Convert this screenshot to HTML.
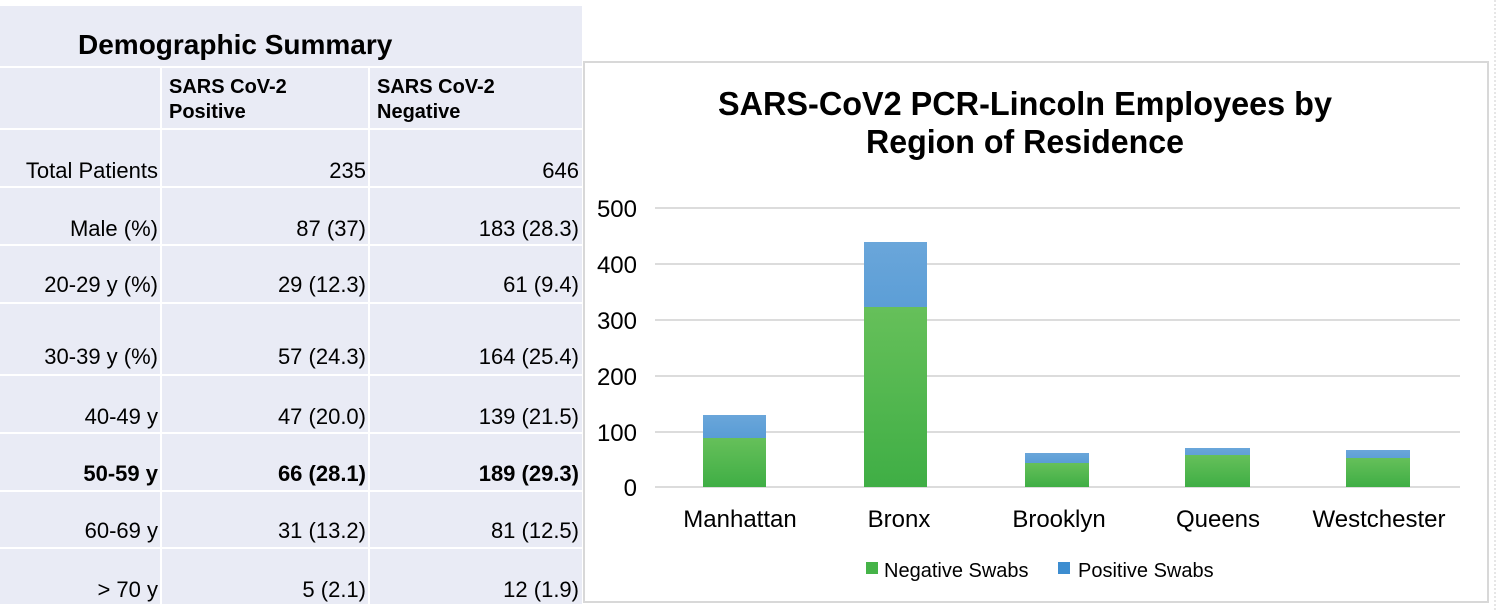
<!DOCTYPE html>
<html><head><style>
body{margin:0;width:1500px;height:611px;background:#fff;position:relative;overflow:hidden;font-family:"Liberation Sans",Arial,sans-serif;color:#000}
.a{position:absolute}
.tb{left:0;top:6px;width:582px;height:598px;background:#e9ebf5}
.h{background:#fff}
.t{position:absolute;font-size:22px;white-space:nowrap}
.r{text-align:right}
</style></head><body>
<div class="a tb"></div>
<div class="a h" style="left:0;top:66px;width:582px;height:2px"></div>
<div class="a h" style="left:0;top:128px;width:582px;height:2px"></div>
<div class="a h" style="left:0;top:186px;width:582px;height:2px"></div>
<div class="a h" style="left:0;top:244px;width:582px;height:2px"></div>
<div class="a h" style="left:0;top:302px;width:582px;height:2px"></div>
<div class="a h" style="left:0;top:374px;width:582px;height:2px"></div>
<div class="a h" style="left:0;top:432px;width:582px;height:2px"></div>
<div class="a h" style="left:0;top:490px;width:582px;height:2px"></div>
<div class="a h" style="left:0;top:547px;width:582px;height:2px"></div>
<div class="a h" style="left:160px;top:67px;width:2px;height:537px"></div>
<div class="a h" style="left:368px;top:67px;width:2px;height:537px"></div>
<div class="t" style="left:78px;top:29px;font-size:28px;font-weight:bold">Demographic Summary</div>
<div class="t" style="left:169px;top:75px;font-size:20px;font-weight:bold;line-height:25px">SARS CoV-2<br>Positive</div>
<div class="t" style="left:377px;top:75px;font-size:20px;font-weight:bold;line-height:25px">SARS CoV-2<br>Negative</div>

<div class="t r" style="right:1342px;top:158px">Total Patients</div><div class="t r" style="right:1134px;top:158px">235</div><div class="t r" style="right:921px;top:158px">646</div>
<div class="t r" style="right:1342px;top:216px">Male (%)</div><div class="t r" style="right:1134px;top:216px">87 (37)</div><div class="t r" style="right:921px;top:216px">183 (28.3)</div>
<div class="t r" style="right:1342px;top:272px">20-29 y (%)</div><div class="t r" style="right:1134px;top:272px">29 (12.3)</div><div class="t r" style="right:921px;top:272px">61 (9.4)</div>
<div class="t r" style="right:1342px;top:344px">30-39 y (%)</div><div class="t r" style="right:1134px;top:344px">57 (24.3)</div><div class="t r" style="right:921px;top:344px">164 (25.4)</div>
<div class="t r" style="right:1342px;top:404px">40-49 y</div><div class="t r" style="right:1134px;top:404px">47 (20.0)</div><div class="t r" style="right:921px;top:404px">139 (21.5)</div>
<div class="t r" style="right:1342px;top:461px;font-weight:bold">50-59 y</div><div class="t r" style="right:1134px;top:461px;font-weight:bold">66 (28.1)</div><div class="t r" style="right:921px;top:461px;font-weight:bold">189 (29.3)</div>
<div class="t r" style="right:1342px;top:518px">60-69 y</div><div class="t r" style="right:1134px;top:518px">31 (13.2)</div><div class="t r" style="right:921px;top:518px">81 (12.5)</div>
<div class="t r" style="right:1342px;top:577px">&gt; 70 y</div><div class="t r" style="right:1134px;top:577px">5 (2.1)</div><div class="t r" style="right:921px;top:577px">12 (1.9)</div>

<svg class="a" style="left:0;top:0" width="1500" height="611">
<rect x="584" y="62" width="904" height="540" fill="#fff" stroke="#d8d8d8" stroke-width="2"/>
<line x1="1495" y1="0" x2="1495" y2="611" stroke="#ccc" stroke-dasharray="2,2"/>
<defs>
<linearGradient id="g" x1="0" y1="0" x2="0" y2="1"><stop offset="0" stop-color="#66c05a"/><stop offset="1" stop-color="#3fae45"/></linearGradient>
<linearGradient id="b" x1="0" y1="0" x2="0" y2="1"><stop offset="0" stop-color="#6aa6da"/><stop offset="1" stop-color="#3588cc"/></linearGradient>
</defs>
<text x="718" y="115" font-size="33" font-weight="bold" font-family="Liberation Sans" textLength="614" lengthAdjust="spacingAndGlyphs">SARS-CoV2 PCR-Lincoln Employees by</text>
<text x="866" y="153" font-size="33" font-weight="bold" font-family="Liberation Sans" textLength="318" lengthAdjust="spacingAndGlyphs">Region of Residence</text>
<g stroke="#dcdcdc" stroke-width="2">
<line x1="655" y1="208" x2="1460" y2="208"/><line x1="655" y1="264" x2="1460" y2="264"/><line x1="655" y1="320" x2="1460" y2="320"/><line x1="655" y1="376" x2="1460" y2="376"/><line x1="655" y1="432" x2="1460" y2="432"/><line x1="655" y1="487" x2="1460" y2="487"/>
</g>
<g font-size="24" font-family="Liberation Sans" text-anchor="end">
<text x="637" y="217">500</text><text x="637" y="273">400</text><text x="637" y="329">300</text><text x="637" y="385">200</text><text x="637" y="441">100</text><text x="637" y="496">0</text>
</g>
<rect x="703" y="415" width="63" height="72" fill="url(#b)"/><rect x="703" y="438" width="63" height="49" fill="url(#g)"/>
<rect x="864" y="242" width="63" height="245" fill="url(#b)"/><rect x="864" y="307" width="63" height="180" fill="url(#g)"/>
<rect x="1025" y="453" width="64" height="34" fill="url(#b)"/><rect x="1025" y="463" width="64" height="24" fill="url(#g)"/>
<rect x="1185" y="448" width="65" height="39" fill="url(#b)"/><rect x="1185" y="455" width="65" height="32" fill="url(#g)"/>
<rect x="1346" y="450" width="64" height="37" fill="url(#b)"/><rect x="1346" y="458" width="64" height="29" fill="url(#g)"/>
<g font-size="24" font-family="Liberation Sans" text-anchor="middle">
<text x="740" y="527">Manhattan</text><text x="899" y="527">Bronx</text><text x="1059" y="527">Brooklyn</text><text x="1218" y="527">Queens</text><text x="1379" y="527">Westchester</text>
</g>
<rect x="866" y="562" width="12" height="12" fill="#45b348"/>
<text x="884" y="577" font-size="20" font-family="Liberation Sans">Negative Swabs</text>
<rect x="1058" y="562" width="12" height="12" fill="#3d8dd0"/>
<text x="1078" y="577" font-size="20" font-family="Liberation Sans">Positive Swabs</text>
</svg>
</body></html>
